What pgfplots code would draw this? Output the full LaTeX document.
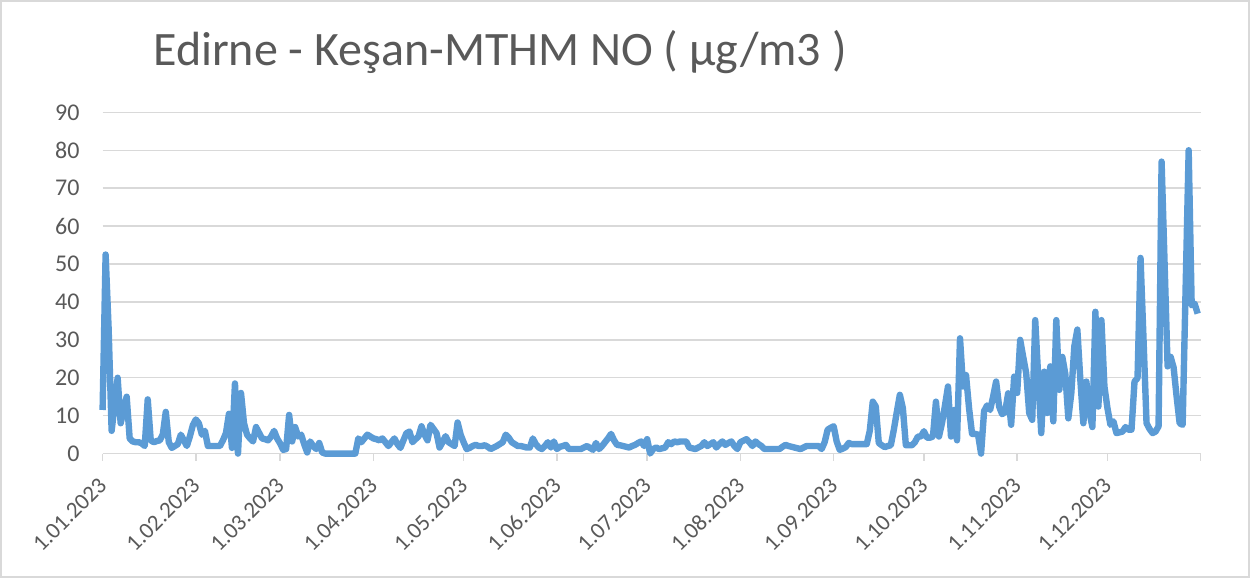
\documentclass[border=0pt]{standalone}
\usepackage{fontspec}
\setmainfont{Carlito}
\usepackage{pgfplots}
\usepackage{pgfplotstable}
\pgfplotsset{compat=1.18}
\definecolor{lineblue}{HTML}{5B9BD5}
\definecolor{gridgray}{HTML}{D9D9D9}
\definecolor{textgray}{HTML}{595959}
\pgfplotstableread{
day val
0 11.5
1 52.5
2 33
3 6
4 13
5 20
6 8
7 11.5
8 15
9 4
10 3.2
11 3
12 3
13 2.7
14 2
15 14.3
16 3.5
17 3
18 3.3
19 3.5
20 5
21 11
22 3
23 1.5
24 2
25 2.5
26 5
27 3.5
28 2
29 4.5
30 7.5
31 9
32 8
33 5
34 6
35 2
36 2
37 2
38 2
39 2
40 3.5
41 5.4
42 10.5
43 1.5
44 18.5
45 0
46 16
47 8
48 5
49 4
50 3.2
51 7
52 5.5
53 4
54 3.8
55 3.5
56 4.5
57 6
58 4
59 2.7
60 1
61 1.2
62 10.2
63 3.2
64 7
65 4.5
66 5
67 2.5
68 0.3
69 3.2
70 2
71 1.2
72 2.8
73 0.3
74 0
75 0
76 0
77 0
78 0
79 0
80 0
81 0
82 0
83 0
84 0
85 4
86 3
87 4
88 5
89 4.5
90 4
91 3.8
92 3.5
93 4
94 3
95 2
96 3
97 4
98 2.5
99 1.5
100 3.5
101 5.4
102 5.8
103 3
104 3.8
105 4.5
106 7.2
107 5
108 3.5
109 7.6
110 6.5
111 5.4
112 1.6
113 3
114 4.6
115 3
116 2.5
117 2
118 8.2
119 5
120 3
121 1.2
122 1.5
123 2
124 2.3
125 2
126 2
127 2.2
128 1.8
129 1.2
130 1.6
131 2
132 2.5
133 3
134 5
135 4.2
136 3
137 2.5
138 2
139 2
140 1.8
141 1.6
142 1.6
143 4
144 2.5
145 1.6
146 1.2
147 2
148 3
149 1.6
150 3.2
151 1.2
152 1.8
153 2
154 2.3
155 1.2
156 1.2
157 1.2
158 1.2
159 1.2
160 1.6
161 2
162 1.5
163 1
164 2.8
165 1.2
166 2
167 3
168 4
169 5.2
170 3.5
171 2.3
172 2.2
173 2
174 1.8
175 1.6
176 2
177 2.3
178 2.8
179 3.2
180 2
181 3.8
182 0
183 1.2
184 1.6
185 1.2
186 1.4
187 1.6
188 3
189 2.5
190 3.2
191 3
192 3.2
193 3.2
194 3.2
195 1.6
196 1.4
197 1.2
198 1.6
199 2
200 3
201 2
202 2.5
203 3
204 1.6
205 2.5
206 3.2
207 2.3
208 2.8
209 3.2
210 2
211 1.2
212 3
213 3.4
214 3.8
215 3
216 2
217 3.2
218 2.5
219 2
220 1.2
221 1.2
222 1.2
223 1.2
224 1.2
225 1.2
226 1.8
227 2.3
228 2
229 1.8
230 1.6
231 1.4
232 1.2
233 1.6
234 2
235 2
236 2
237 2
238 2
239 1.2
240 3
241 6.3
242 6.8
243 7.2
244 3.2
245 1
246 1.3
247 1.7
248 2.8
249 2.5
250 2.5
251 2.5
252 2.5
253 2.5
254 2.5
255 6
256 13.7
257 12.4
258 2.8
259 2.2
260 1.7
261 2
262 2.2
263 6.3
264 11
265 15.5
266 12
267 2.2
268 2.2
269 2.2
270 3
271 4.5
272 4.5
273 5.9
274 4.2
275 4.2
276 4.5
277 13.7
278 4.5
279 8
280 12.7
281 17.7
282 4.5
283 11.5
284 3.5
285 30.4
286 17.7
287 20.7
288 12
289 5.2
290 5.2
291 5
292 0
293 11.2
294 12.7
295 11.5
296 15
297 19
298 12.4
299 10.4
300 11
301 15.9
302 7.6
303 20.3
304 16
305 30
306 25.5
307 21.2
308 10.7
309 8.9
310 35.2
311 20
312 5.4
313 21.6
314 10.7
315 23
316 8.5
317 35.2
318 16.8
319 25.5
320 21
321 9.3
322 16
323 28.3
324 32.7
325 19.4
326 8
327 19
328 11
329 7
330 37.4
331 12.4
332 35.2
333 17.7
334 12
335 7.6
336 8.5
337 5.4
338 5.6
339 5.8
340 7
341 6.3
342 6.3
343 19
344 19.9
345 51.6
346 30
347 8
348 6.5
349 5.4
350 5.8
351 7.2
352 77
353 50
354 23
355 25.5
356 22.7
357 15
358 8
359 7.6
360 44
361 80
362 39.1
363 39.5
364 36.9
}\noxdata
\begin{document}
\begin{tikzpicture}[x=1pt,y=1pt]
\draw[gridgray, line width=1pt] (0.5,0.5) rectangle (624.5,288.5);
\useasboundingbox (0,0) rectangle (625,289);
\node[anchor=base, font=\fontsize{24}{28}\selectfont, text=textgray, inner sep=0pt] at (250,256) {Edirne - Keşan-MTHM NO ( µg/m3 )};
\begin{axis}[
  at={(51.3pt,62.2pt)}, anchor=south west,
  scale only axis, width=549.05pt, height=170.65pt,
  xmin=0, xmax=365, ymin=0, ymax=90,
  axis x line*=bottom, axis y line*=left,
  y axis line style={draw=none},
  x axis line style={gridgray, line width=0.7pt},
  xtick={0,31,59,90,120,151,181,212,243,273,304,334,365},
  xticklabels={1.01.2023,1.02.2023,1.03.2023,1.04.2023,1.05.2023,1.06.2023,1.07.2023,1.08.2023,1.09.2023,1.10.2023,1.11.2023,1.12.2023,{}},
  xtick style={gridgray, line width=0.7pt},
  tick align=outside, major tick length=3.5pt,
  ytick={0,10,...,90}, ytick style={draw=none},
  ymajorgrids, grid style={gridgray, line width=0.7pt},
  yticklabel style={font=\fontsize{12}{14}\selectfont, text=textgray, /pgf/number format/assume math mode=true, xshift=-4.5pt},
  xticklabel style={font=\fontsize{11.5}{13}\selectfont, text=textgray, xshift=2.5pt, yshift=-8pt, rotate=45, anchor=east},
  clip=false,
]
\addplot[lineblue, line width=3.2pt, line join=round, no markers] table[x=day, y=val] {\noxdata};
\end{axis}
\end{tikzpicture}
\end{document}
